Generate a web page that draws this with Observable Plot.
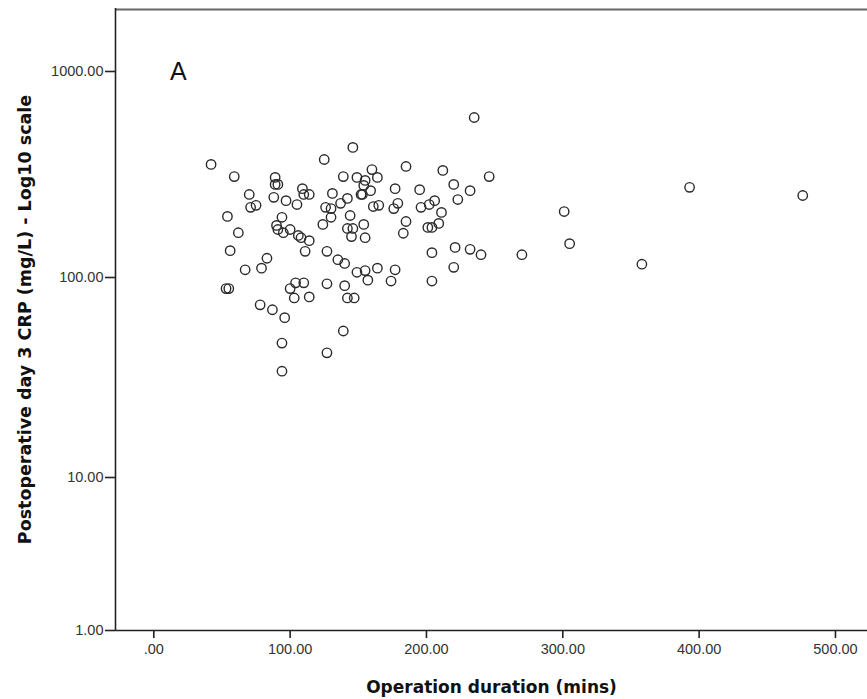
<!DOCTYPE html>
<html>
<head>
<meta charset="utf-8">
<script src="https://cdn.jsdelivr.net/npm/d3@7"></script>
<script src="https://cdn.jsdelivr.net/npm/@observablehq/plot@0.6"></script>
<style>
  html, body { margin: 0; padding: 0; background: #fff; }
  #chart svg { display: block; }
</style>
</head>
<body>
<div id="chart"></div>
<script>
// Operation duration (mins) for each patient
const durationMins = [
  42, 59, 89, 89, 91, 70, 88, 97, 105, 109,
  110, 114, 71, 75, 54, 94, 62, 125, 124, 90,
  91, 95, 100, 106, 108, 114, 111, 56, 83, 67,
  79, 53, 55, 78, 87, 96, 100, 104, 110, 103,
  114, 94, 94, 146, 185, 212, 160, 164, 139, 149,
  155, 154, 159, 152, 153, 177, 195, 220, 223, 131,
  137, 142, 126, 130, 130, 161, 165, 176, 179, 196,
  202, 206, 211, 144, 185, 183, 201, 204, 209, 142,
  146, 154, 145, 155, 127, 135, 140, 149, 155, 157,
  164, 177, 174, 204, 221, 220, 204, 127, 140, 142,
  147, 139, 127, 235, 246, 232, 232, 240, 301, 270,
  305, 358, 393, 476
];
// Postoperative day 3 CRP (mg/L)
const crpDay3 = [
  354, 309, 306, 283, 283, 253, 245, 236, 226, 270,
  253, 253, 219, 224, 198, 196, 165, 374, 181, 179,
  171, 165, 171, 160, 156, 151, 134, 135, 124, 109,
  111, 88, 88, 73, 69, 63, 88, 94, 94, 79,
  80, 47, 34, 428, 346, 331, 334, 306, 309, 306,
  296, 280, 264, 253, 253, 270, 267, 283, 239, 256,
  229, 242, 219, 216, 196, 221, 224, 216, 229, 219,
  226, 236, 207, 200, 187, 164, 175, 175, 183, 173,
  173, 181, 158, 156, 134, 122, 117, 106, 108, 97,
  111, 109, 96, 132, 140, 112, 96, 93, 91, 79,
  79, 54, 42, 598, 309, 264, 137, 129, 209, 129,
  146, 116, 274, 250
];
const xTicks = [0, 100, 200, 300, 400, 500];
const yTicks = [1, 10, 100, 1000];
const xTitle = "Operation duration (mins)";
const yTitle = "Postoperative day 3 CRP (mg/L) - Log10 scale";
const panelLabel = "A";
const panelLabelAt = {x: 18, y: 1000};

const data = durationMins.map((x, i) => ({x, y: crpDay3[i]}));

const xDomain = [-28.1, 523.5];
// SPSS log axis (decades not evenly spaced in the source image)
const yDomain = [1, 10, 100, 1000, 2000];
const yRange = [630, 477, 277, 71, 9];

const fmt2 = d3.format(".2f");
const xFmt = d => d === 0 ? ".00" : fmt2(d);

const chart = Plot.plot({
  width: 867,
  height: 699,
  marginLeft: 115,
  marginRight: 0,
  marginTop: 8,
  marginBottom: 69,
  style: {
    fontFamily: "'Liberation Sans', Arial, sans-serif",
    fontSize: "14.5px",
    color: "#333",
    background: "#fff",
    overflow: "visible"
  },
  x: {type: "linear", domain: xDomain},
  y: {type: "log", domain: yDomain, range: yRange},
  marks: [
    Plot.ruleY([yDomain[yDomain.length - 1]], {stroke: "#666", strokeWidth: 2}),
    Plot.ruleX([xDomain[0]], {stroke: "#222", strokeWidth: 1.6}),
    Plot.ruleY([yDomain[0]], {stroke: "#222", strokeWidth: 1.6}),
    Plot.axisY({ticks: yTicks, tickFormat: fmt2, tickSize: 10, tickPadding: 2, label: null,
      stroke: "#222", strokeWidth: 1.6, fill: "#333"}),
    Plot.axisX({ticks: xTicks, tickFormat: xFmt, tickSize: 8, tickPadding: 5, label: null,
      stroke: "#222", strokeWidth: 1.6, fill: "#333"}),
    Plot.dot(data, {x: "x", y: "y", r: 4.7, stroke: "#2a2a2a", strokeWidth: 1.4, fill: "none"}),
    Plot.text([panelLabel], {x: panelLabelAt.x, y: panelLabelAt.y, text: d => d,
      fontSize: 25, fill: "#111", textAnchor: "middle", lineAnchor: "middle"}),
    Plot.text([xTitle], {frameAnchor: "bottom", dy: 57, text: d => d,
      fontFamily: "'DejaVu Sans', Verdana, sans-serif", fontWeight: "bold", fontSize: 17,
      fill: "#111", textAnchor: "middle", lineAnchor: "middle"}),
    Plot.text([yTitle], {frameAnchor: "left", dx: -90, rotate: -90, text: d => d,
      fontFamily: "'DejaVu Sans', Verdana, sans-serif", fontWeight: "bold", fontSize: 17.5,
      fill: "#111", textAnchor: "middle", lineAnchor: "middle"})
  ]
});
document.getElementById("chart").appendChild(chart);
</script>
</body>
</html>
